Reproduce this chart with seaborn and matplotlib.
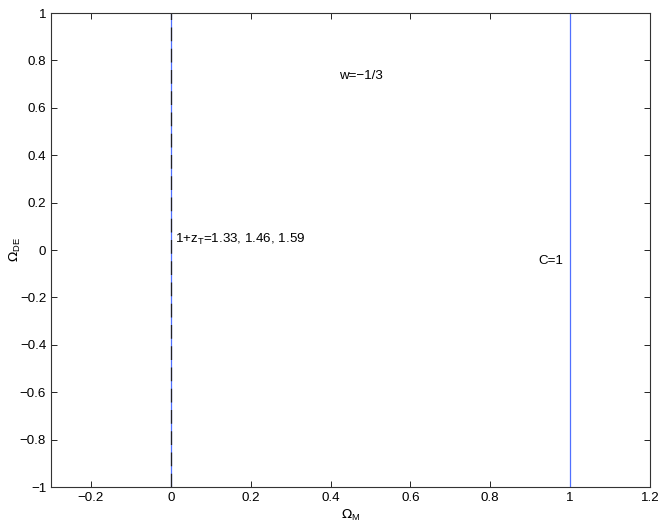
import numpy as np
import pandas as pd
import seaborn as sns
import matplotlib.pyplot as plt

# vertical curves in the (Omega_M, Omega_DE) plane
omega_de = [-1.0, 1.0]
flat_limit = [0.0, 0.0]      # 1+z_T curves (all collapse onto Omega_M = 0)
c1_curve = [1.0, 1.0]        # C = 1

sns.set_style("ticks")
plt.rcParams['font.family'] = ['Liberation Sans', 'DejaVu Sans']
plt.rcParams['font.size'] = 9.6
plt.rcParams['text.color'] = 'black'
plt.rcParams['xtick.color'] = 'black'
plt.rcParams['ytick.color'] = 'black'
plt.rcParams['axes.labelcolor'] = 'black'

fig = plt.figure(figsize=(6.64, 5.28), dpi=100)
ax = fig.add_axes([51/664, 41/528, 599/664, 474/528])

df1 = pd.DataFrame({"om": flat_limit, "ode": omega_de})
df2 = pd.DataFrame({"om": c1_curve, "ode": omega_de})
sns.lineplot(data=df1, x="om", y="ode", ax=ax, color="#5070ff", lw=0.9,
             sort=False, estimator=None)
sns.lineplot(data=df1, x="om", y="ode", ax=ax, color="#222222", lw=0.9,
             sort=False, estimator=None, linestyle=(0, (11, 6)))
sns.lineplot(data=df2, x="om", y="ode", ax=ax, color="#5070ff", lw=0.9,
             sort=False, estimator=None)

ax.text(0.42, 0.72, "w=\u22121/3")
ax.text(0.01, 0.03, "1+z$_\\mathregular{T}$=1.33, 1.46, 1.59")
ax.text(0.92, -0.06, "C=1")

ax.set_xlim(-0.3, 1.2)
ax.set_ylim(-1, 1)
ax.set_xticks(np.arange(-0.2, 1.21, 0.2))
ax.set_yticks(np.arange(-1, 1.01, 0.2))
ax.set_xticklabels(["\u22120.2", "0", "0.2", "0.4", "0.6", "0.8", "1", "1.2"])
ax.set_yticklabels(["\u22121", "\u22120.8", "\u22120.6", "\u22120.4", "\u22120.2", "0",
                    "0.2", "0.4", "0.6", "0.8", "1"])
ax.tick_params(direction="in", top=True, right=True, length=4, width=0.6,
               labelsize=9.6)
for s in ax.spines.values():
    s.set_linewidth(0.8)
    s.set_color("#333333")
ax.set_xlabel("$\\Omega_\\mathregular{M}$", labelpad=3)
ax.set_ylabel("$\\Omega_\\mathregular{DE}$")
ax.yaxis.set_label_coords(-0.046, 0.5)

fig.savefig("out.png", dpi=100)
